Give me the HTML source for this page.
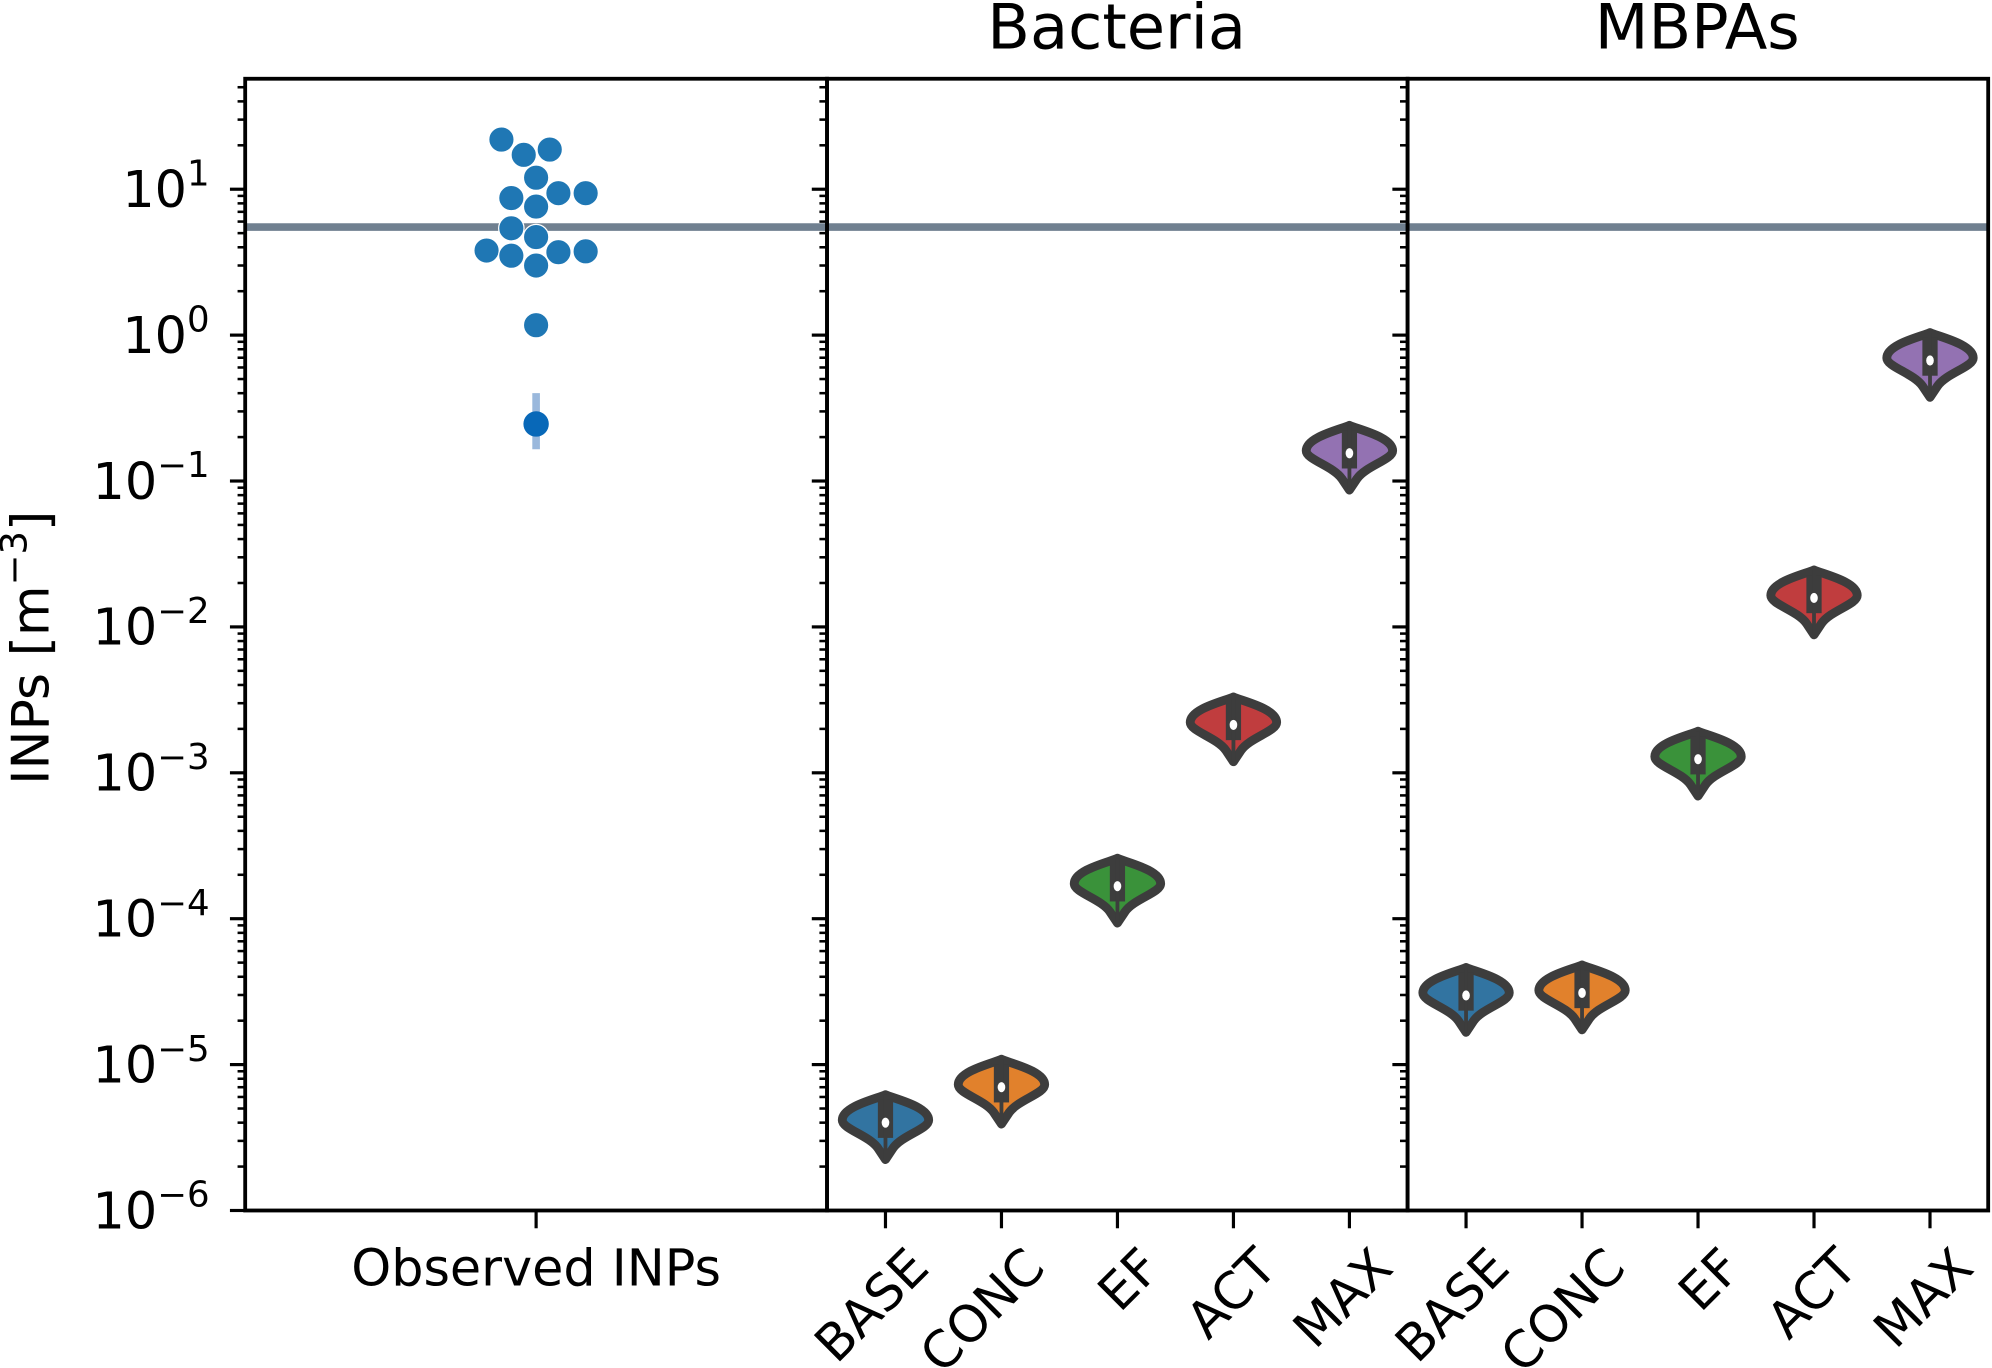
<!DOCTYPE html>
<html><head><meta charset="utf-8"><style>
html,body{margin:0;padding:0;background:#fff;}
svg{display:block;font-family:"DejaVu Sans","Liberation Sans",sans-serif;}
</style></head><body>
<svg id="chart" width="1992" height="1368" viewBox="0 0 1568 1077" preserveAspectRatio="none" xmlns="http://www.w3.org/2000/svg">
<g id="marks"></g>
</svg>
<script>
const obsValues=[21.9,17.2,18.7,12.0,8.7,9.4,9.4,7.6,5.4,4.7,3.8,3.5,3.7,3.75,3.0,1.17];
const obsSlots=[-1.4,-0.5,0.55,0,-1,0.9,2,0,-1,0,-2,-1,0.9,2,0,0];
const obsMean=[0.246];
const obsErr=[0.165,0.40];
const refLine=[5.5];
const categories=["BASE","CONC","EF","ACT","MAX"];
const bacteriaMedians=[4.0e-6,7.0e-6,1.67e-4,2.13e-3,0.155];
const mbpaMedians=[2.98e-5,3.1e-5,1.24e-3,0.0158,0.67];
const yTickExps=[1,0,-1,-2,-3,-4,-5,-6];
const colors=["#3274a1","#e1812c","#3a923a","#c03d3e","#9372b2"];

const NS="http://www.w3.org/2000/svg";
const g=document.getElementById('marks');
const top_=62,bot=953,yTop=1+(149-62)/114.9, yBot=-6;
function y(v){const l=Math.log10(v);return top_+(yTop-l)/(yTop-yBot)*(bot-top_);}
function mk(t,a,p){const e=document.createElementNS(NS,t);for(const k in a)e.setAttribute(k,a[k]);(p||g).appendChild(e);return e;}
const panels=[[193,651],[651,1108],[1108,1565]];
const catX0=[697,1154],catStep=91.3;
panels.forEach((p,i)=>{
  const l=mk('line',{x1:p[0],x2:p[1],y1:y(refLine[0]),y2:y(refLine[0]),stroke:'#708090','stroke-width':6});
  
  
});
panels.forEach((p,i)=>{
  for(let e=-6;e<=1;e++){
    const yy=y(Math.pow(10,e));
    mk('line',{x1:p[0]-12,x2:p[0],y1:yy,y2:yy,stroke:'#000','stroke-width':2.5});
    for(let m=2;m<=9;m++){const v=m*Math.pow(10,e);if(y(v)<top_)continue;const ym=y(v);
      mk('line',{x1:p[0]-6,x2:p[0],y1:ym,y2:ym,stroke:'#000','stroke-width':2});}
  }
});
yTickExps.forEach(e=>{
  const t=mk('text',{x:165,y:y(Math.pow(10,e))+14,'text-anchor':'end','font-size':40});
  
  
  t.innerHTML='10<tspan dy="-17" font-size="28">'+(e<0?'\u2212'+(-e):e)+'</tspan>';
});
const ob=mk('line',{x1:422,x2:422,y1:y(obsErr[1]),y2:y(obsErr[0]),stroke:'#9ab8dc','stroke-width':6});


obsValues.forEach((v,i)=>{
  const c=mk('circle',{cx:422+obsSlots[i]*19.5,cy:y(v),r:10,fill:'#1f77b4',stroke:'#fff','stroke-width':1});
  
  
});
const om=mk('circle',{cx:422,cy:y(obsMean[0]),r:10,fill:'#0868b8'});


function violin(cx,cy,col,name){
  const gg=mk('g',{});
  
  
  const d=`M${cx},${cy-22} C${cx+6},${cy-19} ${cx+34},${cy-13} ${cx+34},${cy-2} C${cx+34},${cy+5} ${cx+13},${cy+10} ${cx+6},${cy+20} L${cx},${cy+29} L${cx-6},${cy+20} C${cx-13},${cy+10} ${cx-34},${cy+5} ${cx-34},${cy-2} C${cx-34},${cy-13} ${cx-6},${cy-19} ${cx},${cy-22} Z`;
  mk('path',{d,fill:col,stroke:'#3d3d3d','stroke-width':7,'stroke-linejoin':'round'},gg);
  mk('rect',{x:cx-6,y:cy-18,width:12,height:30,fill:'#3d3d3d'},gg);
  mk('line',{x1:cx,x2:cx,y1:cy-22,y2:cy+29,stroke:'#3d3d3d','stroke-width':3},gg);
  mk('ellipse',{cx:cx,cy:cy,rx:3,ry:4,fill:'#fff'},gg);
}
[bacteriaMedians,mbpaMedians].forEach((arr,pi)=>{
  arr.forEach((v,i)=>violin(catX0[pi]+i*catStep,y(v),colors[i],(pi?'mbpa-':'bacteria-')+'violin-'+categories[i].toLowerCase()));
});
panels.forEach((p,i)=>{
  const r=mk('rect',{x:p[0],y:top_,width:p[1]-p[0],height:bot-top_,fill:'none',stroke:'#000','stroke-width':3});
  
  
});
mk('line',{x1:422,x2:422,y1:bot,y2:bot+14,stroke:'#000','stroke-width':2.5});
const ol=mk('text',{x:422,y:1012,'text-anchor':'middle','font-size':40});


ol.textContent='Observed INPs';
[0,1].forEach(pi=>categories.forEach((c,i)=>{
  const x=catX0[pi]+i*catStep;
  mk('line',{x1:x,x2:x,y1:bot,y2:bot+14,stroke:'#000','stroke-width':2.5});
  const ax=x+36,ay=1000;
  const t=mk('text',{x:ax,y:ay,'text-anchor':'end','font-size':40,transform:`rotate(-45 ${ax} ${ay})`});
  
  
  t.textContent=c;
}));
const t1=mk('text',{x:879,y:38,'text-anchor':'middle','font-size':49});


t1.textContent='Bacteria';
const t2=mk('text',{x:1336,y:38,'text-anchor':'middle','font-size':49});


t2.textContent='MBPAs';
const yt=mk('text',{x:0,y:0,'text-anchor':'middle','font-size':41,transform:'translate(38 510) rotate(-90)'});


yt.innerHTML='INPs [m<tspan dy="-17" font-size="29">\u22123</tspan><tspan dy="17">]</tspan>';
</script>
</body></html>
